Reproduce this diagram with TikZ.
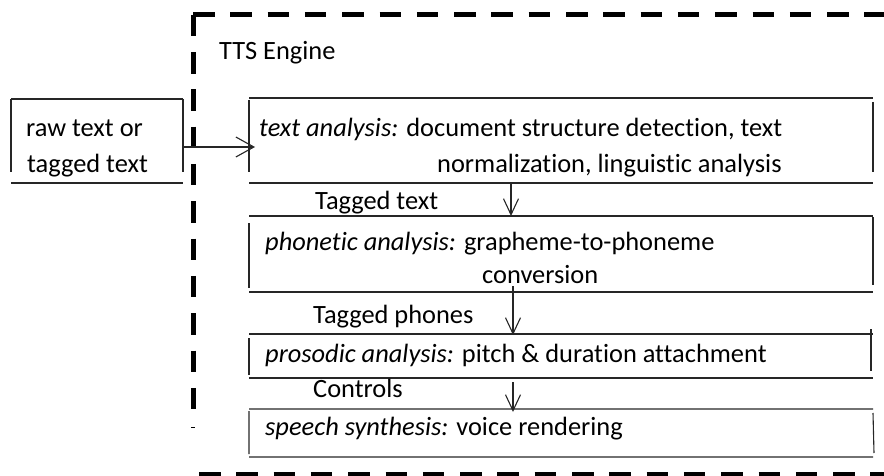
\documentclass[tikz,border=0pt]{standalone}
\usepackage{fontspec}
\setmainfont{Carlito}[Ligatures=NoCommon]
\usetikzlibrary{arrows.meta}
\begin{document}
\begin{tikzpicture}[x=1pt,y=-1pt,
  font=\fontsize{26.4}{33}\selectfont,
  txt/.style={anchor=base west, inner sep=0pt},
  frame/.style={anchor=north west, inner sep=0pt, outer sep=0pt},
  boxline/.style={line width=1.1pt, draw=black!85},
  arr/.style={line width=1.1pt, draw=black!85, -{Straight Barb[length=16pt,width=15pt]}},
  arrh/.style={arr, -{Straight Barb[length=18pt,width=20pt]}},
  engine/.style={line width=5pt, dash pattern=on 21.5pt off 15.8pt}]
\useasboundingbox (0,0) rectangle (884,476);

% TTS engine dashed container
\coordinate (eng) at (193,14.8);
\draw[engine] (eng) -- (884,14.8);
\draw[engine] (eng) -- (193,411);
\draw[engine] (199,474) -- (884,474);
\draw[line width=0.8pt] (191,427) -- (195,427);
\node[txt] (title) at (219,60) {TTS Engine};

% input box
\node[frame, minimum width=172pt, minimum height=84pt] (raw) at (11,99) {};
\draw[boxline] (11,99) -- (183,99) (11,183) -- (183,183) (11,99) -- (11,172) (183,99) -- (183,172);
\node[txt] (raw1) at (26,137) {raw text or};
\node[txt] (raw2) at (27,172) {tagged text};

% text analysis
\node[frame, minimum width=624pt, minimum height=85pt] (ta) at (249,98) {};
\draw[boxline] (249,98) -- (873,98) (249,183) -- (873,183) (249,100) -- (249,172) (873,102) -- (873,172);
\node[txt] (ta1) at (259,137) {{\itshape text analysis:} document structure detection, text};
\node[txt] (ta2) at (437,172) {normalization, linguistic analysis};

% phonetic analysis
\node[frame, minimum width=624pt, minimum height=76pt] (ph) at (249,216) {};
\draw[boxline] (249,216) -- (873,216) (249,292) -- (873,292) (249,223) -- (249,288) (873,217) -- (873,285);
\node[txt] (ph1) at (265,251) {{\itshape phonetic analysis:} grapheme-to-phoneme};
\node[txt] (ph2) at (482,283) {conversion};

% prosodic analysis
\node[frame, minimum width=624pt, minimum height=44pt] (pr) at (249,334) {};
\draw[boxline] (249,334) -- (873,334) (249,378) -- (873,378) (249,338) -- (249,375) (871,329) -- (871,371);
\node[txt] (pr1) at (265,362) {{\itshape prosodic analysis:} pitch \& duration attachment};

% speech synthesis
\node[frame, minimum width=624pt, minimum height=48pt] (ss) at (249,409) {};
\draw[boxline] (249,409) -- (873,409) (249,457) -- (873,457) (249,411) -- (249,454) (873,413) -- (874,453);
\node[txt] (ss1) at (265,435) {{\itshape speech synthesis:} voice rendering};

% labels
\node[txt] (l1) at (315,210) {Tagged text};
\node[txt] (l2) at (313,323) {Tagged phones};
\node[txt] (l3) at (313,397) {Controls};

% connectors
\coordinate (a0) at (0,147);
\coordinate (a1) at (511,0);
\coordinate (a2) at (513,0);
\draw[arrh] (raw.east |- a0) -- ([xshift=6pt]ta.west |- a0);
\draw[arr] (ta.south -| a1) -- (ph.north -| a1);
\draw[arr] ([yshift=6pt]ph.south -| a2) -- ([yshift=-1pt]pr.north -| a2);
\draw[arr] ([yshift=-4pt]pr.south -| a2) -- ([yshift=-3pt]ss.north -| a2);
\end{tikzpicture}
\end{document}
